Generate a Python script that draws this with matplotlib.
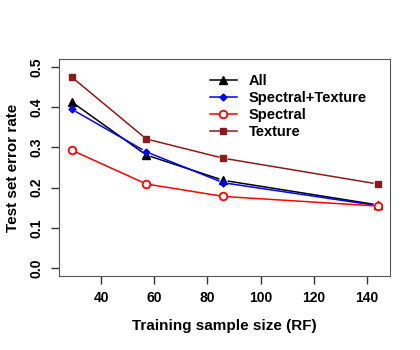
import matplotlib
matplotlib.use("Agg")
import numpy as np
import matplotlib.pyplot as plt
from matplotlib.lines import Line2D
from matplotlib.transforms import IdentityTransform

# data
sample_size = [29, 57, 86, 144]
err_all = [0.413, 0.281, 0.218, 0.157]
err_spec_tex = [0.395, 0.289, 0.212, 0.155]
err_spectral = [0.293, 0.209, 0.178, 0.154]
err_texture = [0.475, 0.321, 0.273, 0.209]

plt.rcParams['font.family'] = ['Liberation Sans', 'DejaVu Sans']
plt.rcParams['font.weight'] = 'bold'

fig = plt.figure(figsize=(4.2, 3.5), dpi=100)
ax = fig.add_axes([0.1405, 0.2114, 0.7881, 0.62])
ax.set_xlim(24.2, 148.6)
ax.set_ylim(-0.02, 0.52)

GAP = 5  # pixels left open round each point, like R type="b"

def gapped(x, y, color, **mk):
    pts = ax.transData.transform(np.column_stack([x, y]))
    for p, q in zip(pts[:-1], pts[1:]):
        d = q - p
        u = d / np.hypot(*d)
        a, b = p + u * GAP, q - u * GAP
        ax.add_line(Line2D([a[0], b[0]], [a[1], b[1]], color=color, lw=1.1,
                           transform=IdentityTransform()))
    ax.plot(x, y, ls='none', color=color, **mk)

gapped(sample_size, err_all, 'black', marker='^', ms=6)
gapped(sample_size, err_spec_tex, 'blue', marker='D', ms=3.5)
gapped(sample_size, err_spectral, 'red', marker='o', ms=5.5, mfc='white', mew=1.3)
gapped(sample_size, err_texture, '#8B1A1A', marker='s', ms=5)

ax.set_xticks([40, 60, 80, 100, 120, 140])
ax.set_yticks([0.0, 0.1, 0.2, 0.3, 0.4, 0.5])
ax.set_yticklabels(['0.0', '0.1', '0.2', '0.3', '0.4', '0.5'], rotation=90, va='center')
ax.tick_params(length=6, width=1, labelsize=10, pad=5, color='#333333')
for s in ax.spines.values():
    s.set_color('#555555')

ax.set_xlabel('Training sample size (RF)', fontsize=11, fontweight='bold', labelpad=10)
ax.set_ylabel('Test set error rate', fontsize=11, fontweight='bold', labelpad=7)

handles = [
    Line2D([], [], color='black', marker='^', ms=6, lw=1.1),
    Line2D([], [], color='blue', marker='D', ms=3.5, lw=1.1),
    Line2D([], [], color='red', marker='o', ms=5.5, mfc='white', mew=1.3, lw=1.1),
    Line2D([], [], color='#8B1A1A', marker='s', ms=5, lw=1.1),
]
labels = ['All', 'Spectral+Texture', 'Spectral', 'Texture']
ax.legend(handles, labels, loc='upper left', bbox_to_anchor=(0.415, 0.99), frameon=False,
          fontsize=10.5, handlelength=1.9, handletextpad=0.8, labelspacing=0.2)

fig.savefig('out.png', dpi=100)
